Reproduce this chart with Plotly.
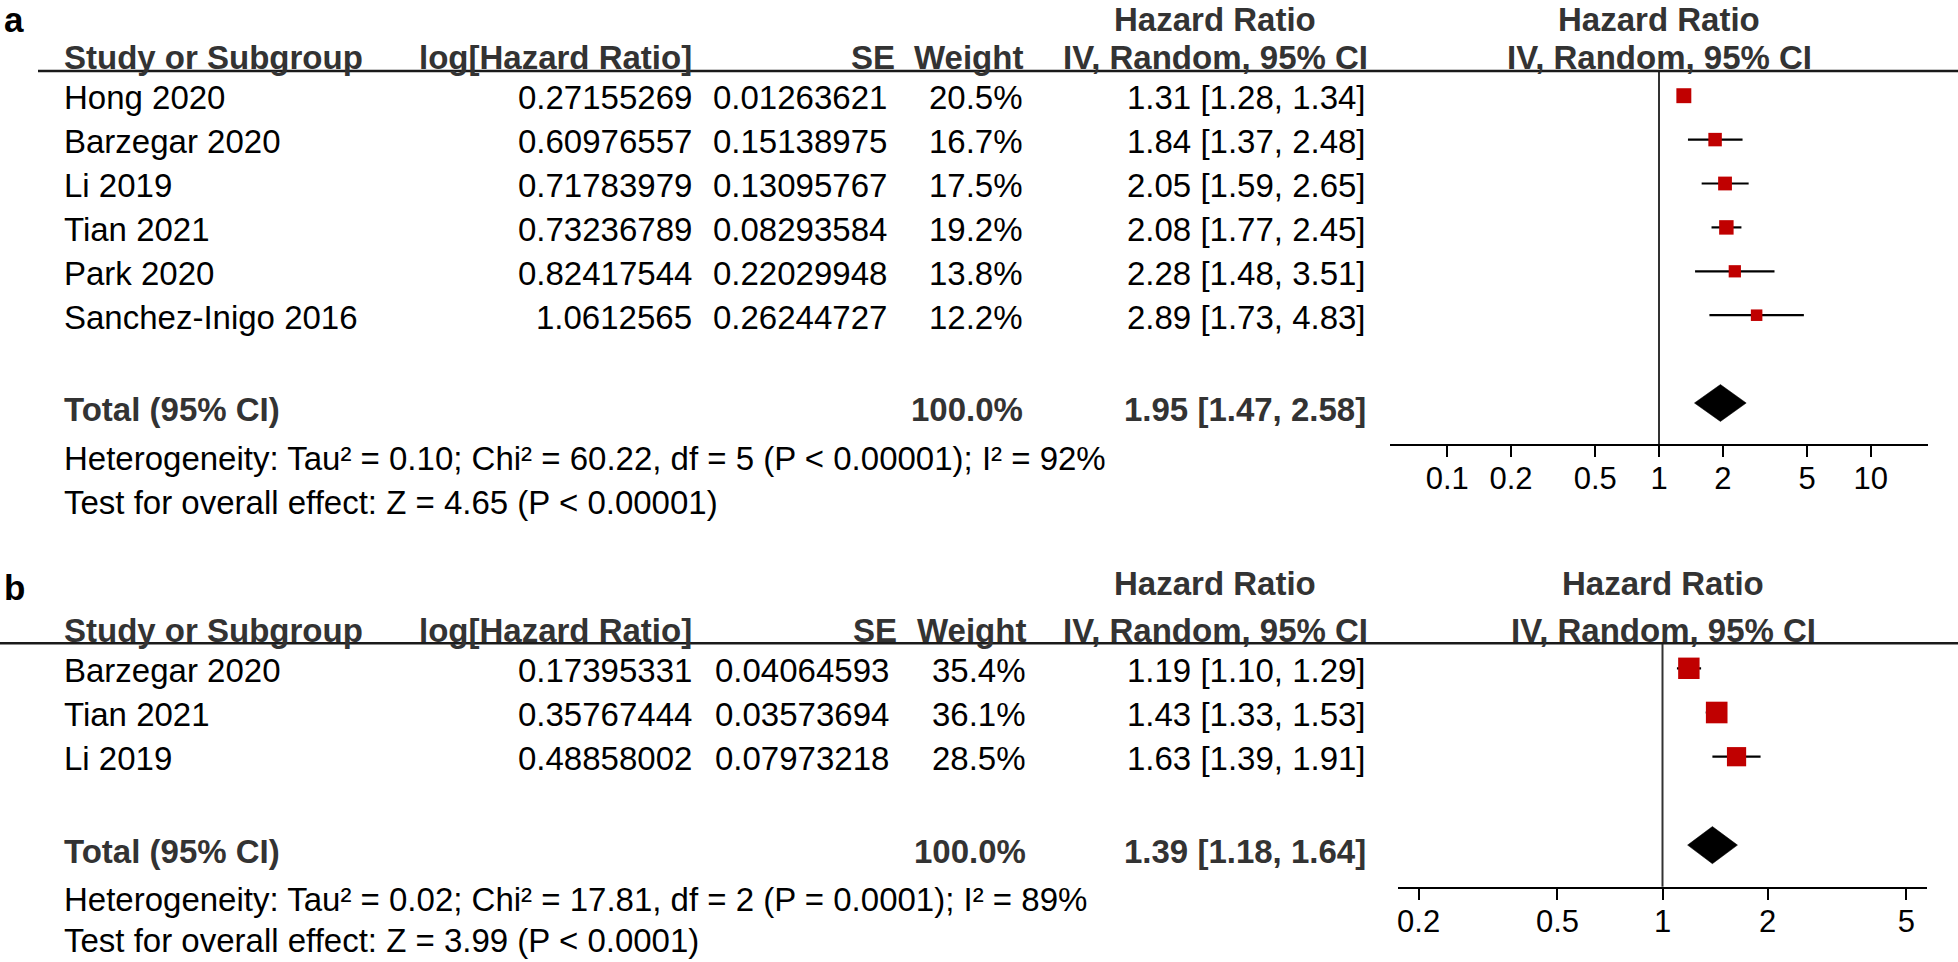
import plotly.graph_objects as go
import numpy as np

W, H = 1958, 962

# ---------------- data: panel a ----------------
studies_a = ["Hong 2020", "Barzegar 2020", "Li 2019", "Tian 2021", "Park 2020", "Sanchez-Inigo 2016"]
loghr_a = [0.27155269, 0.60976557, 0.71783979, 0.73236789, 0.82417544, 1.0612565]
se_a = [0.01263621, 0.15138975, 0.13095767, 0.08293584, 0.22029948, 0.26244727]
weight_a = [20.5, 16.7, 17.5, 19.2, 13.8, 12.2]
hr_a = [1.31, 1.84, 2.05, 2.08, 2.28, 2.89]
lo_a = [1.28, 1.37, 1.59, 1.77, 1.48, 1.73]
hi_a = [1.34, 2.48, 2.65, 2.45, 3.51, 4.83]
total_a = [1.95, 1.47, 2.58]
total_weight_a = 100.0
het_a = "Heterogeneity: Tau² = 0.10; Chi² = 60.22, df = 5 (P < 0.00001); I² = 92%"
test_a = "Test for overall effect: Z = 4.65 (P < 0.00001)"
ticks_a = [0.1, 0.2, 0.5, 1, 2, 5, 10]
ticklabels_a = ["0.1", "0.2", "0.5", "1", "2", "5", "10"]

# ---------------- data: panel b ----------------
studies_b = ["Barzegar 2020", "Tian 2021", "Li 2019"]
loghr_b = [0.17395331, 0.35767444, 0.48858002]
se_b = [0.04064593, 0.03573694, 0.07973218]
weight_b = [35.4, 36.1, 28.5]
hr_b = [1.19, 1.43, 1.63]
lo_b = [1.10, 1.33, 1.39]
hi_b = [1.29, 1.53, 1.91]
total_b = [1.39, 1.18, 1.64]
total_weight_b = 100.0
het_b = "Heterogeneity: Tau² = 0.02; Chi² = 17.81, df = 2 (P = 0.0001); I² = 89%"
test_b = "Test for overall effect: Z = 3.99 (P < 0.0001)"
ticks_b = [0.2, 0.5, 1, 2, 5]
ticklabels_b = ["0.2", "0.5", "1", "2", "5"]

header_cols = ["Study or Subgroup", "log[Hazard Ratio]", "SE", "Weight", "IV, Random, 95% CI"]

# ---------------- style / layout (pixels) ----------------
FONT = "Liberation Sans, Arial, Helvetica, sans-serif"
FS = 33
HDR_COLOR = "#333333"
TXT_COLOR = "#000000"
RED = "#C00000"

def px(x):
    return x / W

def py(y):
    return 1 - y / H

panels = [
    dict(name="a", xa="x", ya="y", xa_over="x3",
         studies=studies_a, loghr=loghr_a, se=se_a, weight=weight_a,
         hr=hr_a, lo=lo_a, hi=hi_a, total=total_a, total_w=total_weight_a,
         het=het_a, test=test_a, ticks=ticks_a, ticklabels=ticklabels_a,
         xdom=(1390, 1928), half=1.27, line_y=71, axis_y=444, row0=95.7, sp=43.9,
         label_y=19, hdr1_y=19, hdr2_y=58, het_y=459, test_y=502, hline_x0=38,
         col_log=694, col_se=889, col_se_h=897, col_w=1025, col_ci=1368, ci_center=1215,
         plot_c=1659, sq=3.3),
    dict(name="b", xa="x2", ya="y2", xa_over="x4",
         studies=studies_b, loghr=loghr_b, se=se_b, weight=weight_b,
         hr=hr_b, lo=lo_b, hi=hi_b, total=total_b, total_w=total_weight_b,
         het=het_b, test=test_b, ticks=ticks_b, ticklabels=ticklabels_b,
         xdom=(1398, 1927), half=0.758, line_y=643.3, axis_y=886.7, row0=668.3, sp=44.2,
         label_y=587, hdr1_y=583, hdr2_y=630, het_y=899, test_y=940, hline_x0=0,
         col_log=694, col_se=891, col_se_h=899, col_w=1028, col_ci=1368, ci_center=1215,
         plot_c=1663, sq=3.6),
]

fig = go.Figure()
annotations = []
shapes = []
layout_axes = {}

def ann(text, x, y, xanchor="left", yanchor="middle", bold=False, color=TXT_COLOR, size=FS,
        xref="paper", yref="paper"):
    t = f"<b>{text}</b>" if bold else text
    annotations.append(dict(text=t, x=x, y=y, xref=xref, yref=yref, xanchor=xanchor,
                            yanchor=yanchor, showarrow=False,
                            font=dict(family=FONT, size=size, color=color)))

for i, p in enumerate(panels):
    n = len(p["studies"])
    rows = list(range(n))
    tot_row = n + 1
    xa, ya = p["xa"], p["ya"]
    xkey = "xaxis" if xa == "x" else "xaxis" + xa[1:]
    ykey = "yaxis" if ya == "y" else "yaxis" + ya[1:]
    okey = "xaxis" + p["xa_over"][1:]
    ybot = (p["axis_y"] - p["row0"]) / p["sp"]
    ytop = (p["line_y"] - p["row0"]) / p["sp"]
    ydom = [py(p["axis_y"]), py(p["line_y"])]
    xdom = [px(p["xdom"][0]), px(p["xdom"][1])]

    layout_axes[xkey] = dict(domain=xdom, anchor=ya, type="log", range=[-p["half"], p["half"]],
                             showgrid=False, zeroline=False, showline=True, linecolor="black",
                             linewidth=2, ticks="outside", ticklen=11, tickwidth=2,
                             tickcolor="black", tickvals=p["ticks"], ticktext=p["ticklabels"],
                             tickfont=dict(family=FONT, size=31, color="black"),
                             ticklabelstandoff=-5, fixedrange=True)
    layout_axes[okey] = dict(domain=xdom, anchor=ya, overlaying=xa, type="log",
                             range=[-p["half"], p["half"]], showgrid=False, zeroline=False,
                             showline=False, ticks="inside", ticklen=11, tickwidth=2,
                             tickcolor="black", tickvals=p["ticks"], showticklabels=False,
                             fixedrange=True)
    layout_axes[ykey] = dict(domain=ydom, range=[ybot, ytop], visible=False, fixedrange=True)

    # reference line at HR = 1
    shapes.append(dict(type="line", xref=xa, yref=f"{ya} domain", x0=1, x1=1, y0=0, y1=1,
                       line=dict(color="#333333", width=2)))
    # header underline
    shapes.append(dict(type="line", xref="paper", yref="paper", x0=px(p["hline_x0"]), x1=1,
                       y0=py(p["line_y"]), y1=py(p["line_y"]), line=dict(color="#1a1a1a", width=2.5)))

    # confidence interval lines (drawn beneath the squares)
    ci_x, ci_y = [], []
    for r in rows:
        ci_x += [p["lo"][r], p["hi"][r], None]
        ci_y += [r, r, None]
    fig.add_trace(go.Scatter(x=ci_x, y=ci_y, mode="lines", xaxis=xa, yaxis=ya,
                             line=dict(color="black", width=2.2), hoverinfo="skip",
                             cliponaxis=False))
    sizes = [p["sq"] * np.sqrt(w) for w in p["weight"]]
    fig.add_trace(go.Scatter(
        x=p["hr"], y=rows, mode="markers", xaxis=xa, yaxis=ya, cliponaxis=False,
        marker=dict(symbol="square", size=sizes, color=RED, opacity=1, line=dict(width=0)),
        hoverinfo="skip"))
    # pooled diamond
    t_hr, t_lo, t_hi = p["total"]
    dh = 0.42
    fig.add_trace(go.Scatter(
        x=[t_lo, t_hr, t_hi, t_hr, t_lo], y=[tot_row, tot_row - dh, tot_row, tot_row + dh, tot_row],
        mode="lines", fill="toself", fillcolor="black", line=dict(color="black", width=0.5),
        xaxis=xa, yaxis=ya, hoverinfo="skip", cliponaxis=False))

    # panel label
    ann(p["name"], px(2), py(p["label_y"]), bold=True, size=35, color="black")
    # header row 1
    ann("Hazard Ratio", px(p["ci_center"]), py(p["hdr1_y"]), xanchor="center", bold=True, color=HDR_COLOR)
    ann("Hazard Ratio", px(p["plot_c"]), py(p["hdr1_y"]), xanchor="center", bold=True, color=HDR_COLOR)
    # header row 2
    ann(header_cols[0], px(62), py(p["hdr2_y"]), bold=True, color=HDR_COLOR)
    ann(header_cols[1], px(p["col_log"]), py(p["hdr2_y"]), xanchor="right", bold=True, color=HDR_COLOR)
    ann(header_cols[2], px(p["col_se_h"]), py(p["hdr2_y"]), xanchor="right", bold=True, color=HDR_COLOR)
    ann(header_cols[3], px(p["col_w"]), py(p["hdr2_y"]), xanchor="right", bold=True, color=HDR_COLOR)
    ann(header_cols[4], px(p["col_ci"] + 2), py(p["hdr2_y"]), xanchor="right", bold=True, color=HDR_COLOR)
    ann(header_cols[4], px(p["plot_c"]), py(p["hdr2_y"]), xanchor="center", bold=True, color=HDR_COLOR)

    # study rows
    for r in rows:
        yv = r + 0.05
        ann(p["studies"][r], px(62), yv, yref=ya)
        ann(f"{p['loghr'][r]}", px(p["col_log"]), yv, xanchor="right", yref=ya)
        ann(f"{p['se'][r]}", px(p["col_se"]), yv, xanchor="right", yref=ya)
        ann(f"{p['weight'][r]:.1f}%", px(p["col_w"]), yv, xanchor="right", yref=ya)
        ann(f"{p['hr'][r]:.2f} [{p['lo'][r]:.2f}, {p['hi'][r]:.2f}]", px(p["col_ci"]), yv,
            xanchor="right", yref=ya)
    # total row
    ty = tot_row + 0.15
    ann("Total (95% CI)", px(62), ty, yref=ya, bold=True, color=HDR_COLOR)
    ann(f"{p['total_w']:.1f}%", px(p["col_w"]), ty, xanchor="right", yref=ya, bold=True, color=HDR_COLOR)
    ann(f"{t_hr:.2f} [{t_lo:.2f}, {t_hi:.2f}]", px(p["col_ci"]), ty, xanchor="right", yref=ya,
        bold=True, color=HDR_COLOR)
    # footer
    ann(p["het"], px(62), py(p["het_y"]))
    ann(p["test"], px(62), py(p["test_y"]))

fig.update_layout(
    width=W, height=H, margin=dict(l=0, r=0, t=0, b=0),
    paper_bgcolor="white", plot_bgcolor="white", showlegend=False,
    annotations=annotations, shapes=shapes, **layout_axes)

fig.write_html("out.html", config={"displayModeBar": False},
               post_script="document.body.style.margin='0';document.body.style.overflow='hidden';")
